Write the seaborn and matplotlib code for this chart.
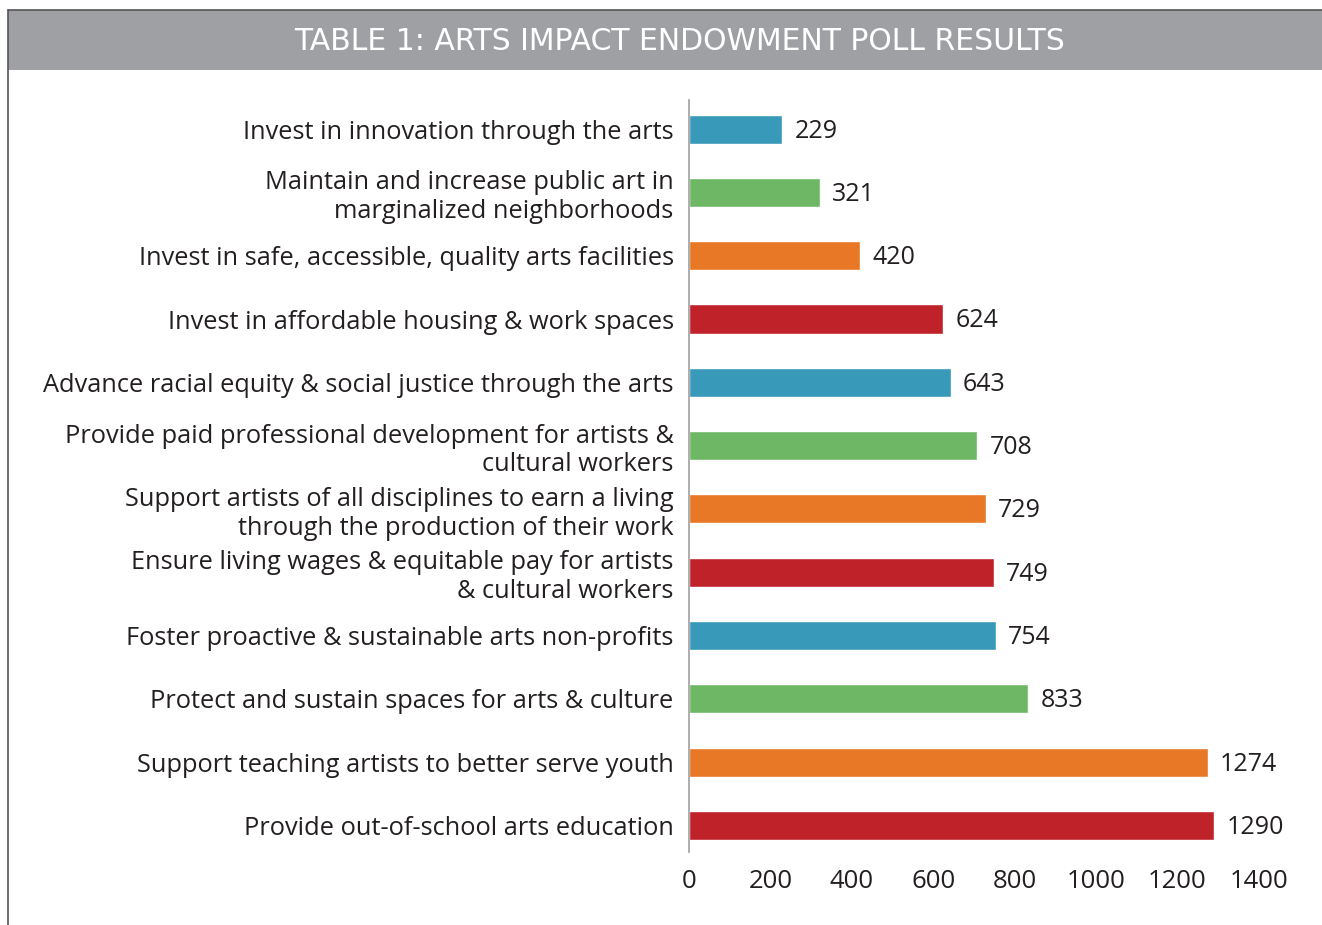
import matplotlib
matplotlib.use("Agg")
import matplotlib.pyplot as plt
import seaborn as sns
import pandas as pd

categories = [
    "Invest in innovation through the arts",
    "Maintain and increase public art in\nmarginalized neighborhoods",
    "Invest in safe, accessible, quality arts facilities",
    "Invest in affordable housing & work spaces",
    "Advance racial equity & social justice through the arts",
    "Provide paid professional development for artists &\ncultural workers",
    "Support artists of all disciplines to earn a living\nthrough the production of their work",
    "Ensure living wages & equitable pay for artists\n& cultural workers",
    "Foster proactive & sustainable arts non-profits",
    "Protect and sustain spaces for arts & culture",
    "Support teaching artists to better serve youth",
    "Provide out-of-school arts education",
]
values = [229, 321, 420, 624, 643, 708, 729, 749, 754, 833, 1274, 1290]
tick_values = [0, 200, 400, 600, 800, 1000, 1200, 1400]
title = "TABLE 1: ARTS IMPACT ENDOWMENT POLL RESULTS"

cycle = ["#3899B8", "#6DB765", "#E87726", "#C0222A"]
colors = [cycle[i % 4] for i in range(len(categories))]

df = pd.DataFrame({"category": categories, "value": values})

sns.set_theme(style="white")
plt.rcParams['font.family'] = ['Open Sans', 'DejaVu Sans']

fig = plt.figure(figsize=(13.22, 9.25), dpi=100)
ax = fig.add_axes([689/1322, 1-852/925, (1259-689)/1322, (852-100)/925])

sns.barplot(data=df, x="value", y="category", hue="category", palette=colors,
            legend=False, ax=ax, width=0.46, orient="h", saturation=1)

ax.set_xlim(0, 1400)
ax.set_ylim(11.42, -0.46)
ax.set_xticks(tick_values)
ax.set_xticklabels([str(t) for t in tick_values], fontsize=18.5, color="#231F20")
ax.tick_params(axis="x", length=0, pad=12)
ax.tick_params(axis="y", length=0, pad=11)
ax.set_yticks(range(len(categories)))
ax.set_yticklabels(categories, fontsize=18.3, color="#231F20", linespacing=1.2)
ax.set_xlabel("")
ax.set_ylabel("")
for s in ["top", "right", "bottom"]:
    ax.spines[s].set_visible(False)
ax.spines["left"].set_color("#A0A0A0")
ax.spines["left"].set_linewidth(1.2)

for i, v in enumerate(values):
    ax.text(v + 30, i + 0.03, str(v), va="center", ha="left", fontsize=18, color="#231F20")

# title banner
fig.patches.append(plt.Rectangle((8/1322, 1-70/925), 1-8/1322, 60/925,
                                 transform=fig.transFigure, facecolor="#9FA0A4",
                                 edgecolor="none", zorder=0))
fig.lines.append(plt.Line2D([8/1322, 1], [1-10/925, 1-10/925], transform=fig.transFigure,
                            color="#555555", linewidth=1.2))
fig.lines.append(plt.Line2D([8/1322, 8/1322], [0, 1-10/925], transform=fig.transFigure,
                            color="#555555", linewidth=1.2))
fig.text(679/1322, 1-41/925, title, ha="center", va="center", fontsize=21.5,
         color="white", family=["DejaVu Sans"])

fig.savefig("out.png", dpi=100)
